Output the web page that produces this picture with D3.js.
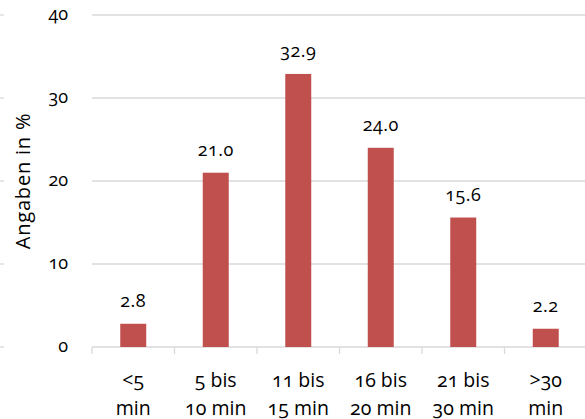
<!DOCTYPE html>
<html>
<head>
<meta charset="utf-8">
<script src="https://cdn.jsdelivr.net/npm/d3@7"></script>
<style>
  html, body { margin: 0; padding: 0; background: #fff; }
  svg { display: block; font-family: "Open Sans", Lato, sans-serif; font-variant-numeric: oldstyle-nums; font-feature-settings: "onum" 1; }
</style>
</head>
<body>
<div id="chart"></div>
<script>
// Travel time categories (two-line labels) and share of answers in percent
const categories = ["<5|min", "5 bis|10 min", "11 bis|15 min", "16 bis|20 min", "21 bis|30 min", ">30|min"];
const values = [2.8, 21.0, 32.9, 24.0, 15.6, 2.2];
const yTicks = [0, 10, 20, 30, 40];
const yTitle = "Angaben in %";

const W = 585, H = 419;
const plot = { left: 92, right: 587, top: 15, bottom: 347 };

const svg = d3.select("#chart").append("svg")
  .attr("width", W).attr("height", H);

const x = d3.scaleBand()
  .domain(categories)
  .range([plot.left, plot.right])
  .paddingInner(0.685)
  .paddingOuter(0.3425);

const band = d3.scaleBand().domain(categories).range([plot.left, plot.right]);

const y = d3.scaleLinear().domain([0, 40]).range([plot.bottom, plot.top]);

// Horizontal gridlines
svg.append("g")
  .selectAll("line")
  .data(yTicks)
  .join("line")
  .attr("x1", plot.left).attr("x2", W)
  .attr("y1", d => y(d)).attr("y2", d => y(d))
  .attr("stroke", "#d9d9d9").attr("stroke-width", 1.3);

// Short tick stubs at the left edge
svg.append("g")
  .selectAll("line")
  .data(yTicks)
  .join("line")
  .attr("x1", 0).attr("x2", 4)
  .attr("y1", d => y(d)).attr("y2", d => y(d))
  .attr("stroke", "#d9d9d9").attr("stroke-width", 1.3);

// Y tick labels
svg.append("g")
  .selectAll("text")
  .data(yTicks)
  .join("text")
  .attr("x", 68).attr("y", d => y(d))
  .attr("dy", "0.3em")
  .attr("text-anchor", "end")
  .attr("font-size", 18)
  .attr("fill", "#000")
  .text(d => d);

// Y axis title
svg.append("text")
  .attr("transform", `translate(30,${181}) rotate(-90)`)
  .attr("text-anchor", "middle")
  .attr("font-size", 20)
  .attr("letter-spacing", 0.8)
  .attr("fill", "#000")
  .text(yTitle);

// Category boundary ticks below the baseline
const boundaries = categories.map(c => band(c)).concat([plot.right]);
svg.append("g")
  .selectAll("line")
  .data(boundaries)
  .join("line")
  .attr("x1", d => d).attr("x2", d => d)
  .attr("y1", plot.bottom).attr("y2", plot.bottom + 7)
  .attr("stroke", "#d9d9d9").attr("stroke-width", 1.3);

// Bars
svg.append("g")
  .selectAll("rect")
  .data(values)
  .join("rect")
  .attr("x", (d, i) => x(categories[i]))
  .attr("width", x.bandwidth())
  .attr("y", d => y(d))
  .attr("height", d => y(0) - y(d))
  .attr("fill", "#c0504d");

// Value labels
svg.append("g")
  .selectAll("text")
  .data(values)
  .join("text")
  .attr("x", (d, i) => x(categories[i]) + x.bandwidth() / 2)
  .attr("y", d => y(d) - 17)
  .attr("text-anchor", "middle")
  .attr("font-size", 18)
  .attr("letter-spacing", 0.5)
  .attr("fill", "#000")
  .text(d => d.toFixed(1));

// Category labels (two lines each)
const catLabels = svg.append("g")
  .selectAll("text")
  .data(categories)
  .join("text")
  .attr("x", d => band(d) + band.bandwidth() / 2)
  .attr("y", 387)
  .attr("text-anchor", "middle")
  .attr("font-size", 19.5)
  .attr("fill", "#000");

catLabels.each(function (d) {
  const parts = d.split("|");
  const t = d3.select(this);
  const cx = +t.attr("x");
  parts.forEach((p, i) => {
    t.append("tspan").attr("x", cx).attr("dy", i === 0 ? 0 : 28).text(p);
  });
});
</script>
</body>
</html>
